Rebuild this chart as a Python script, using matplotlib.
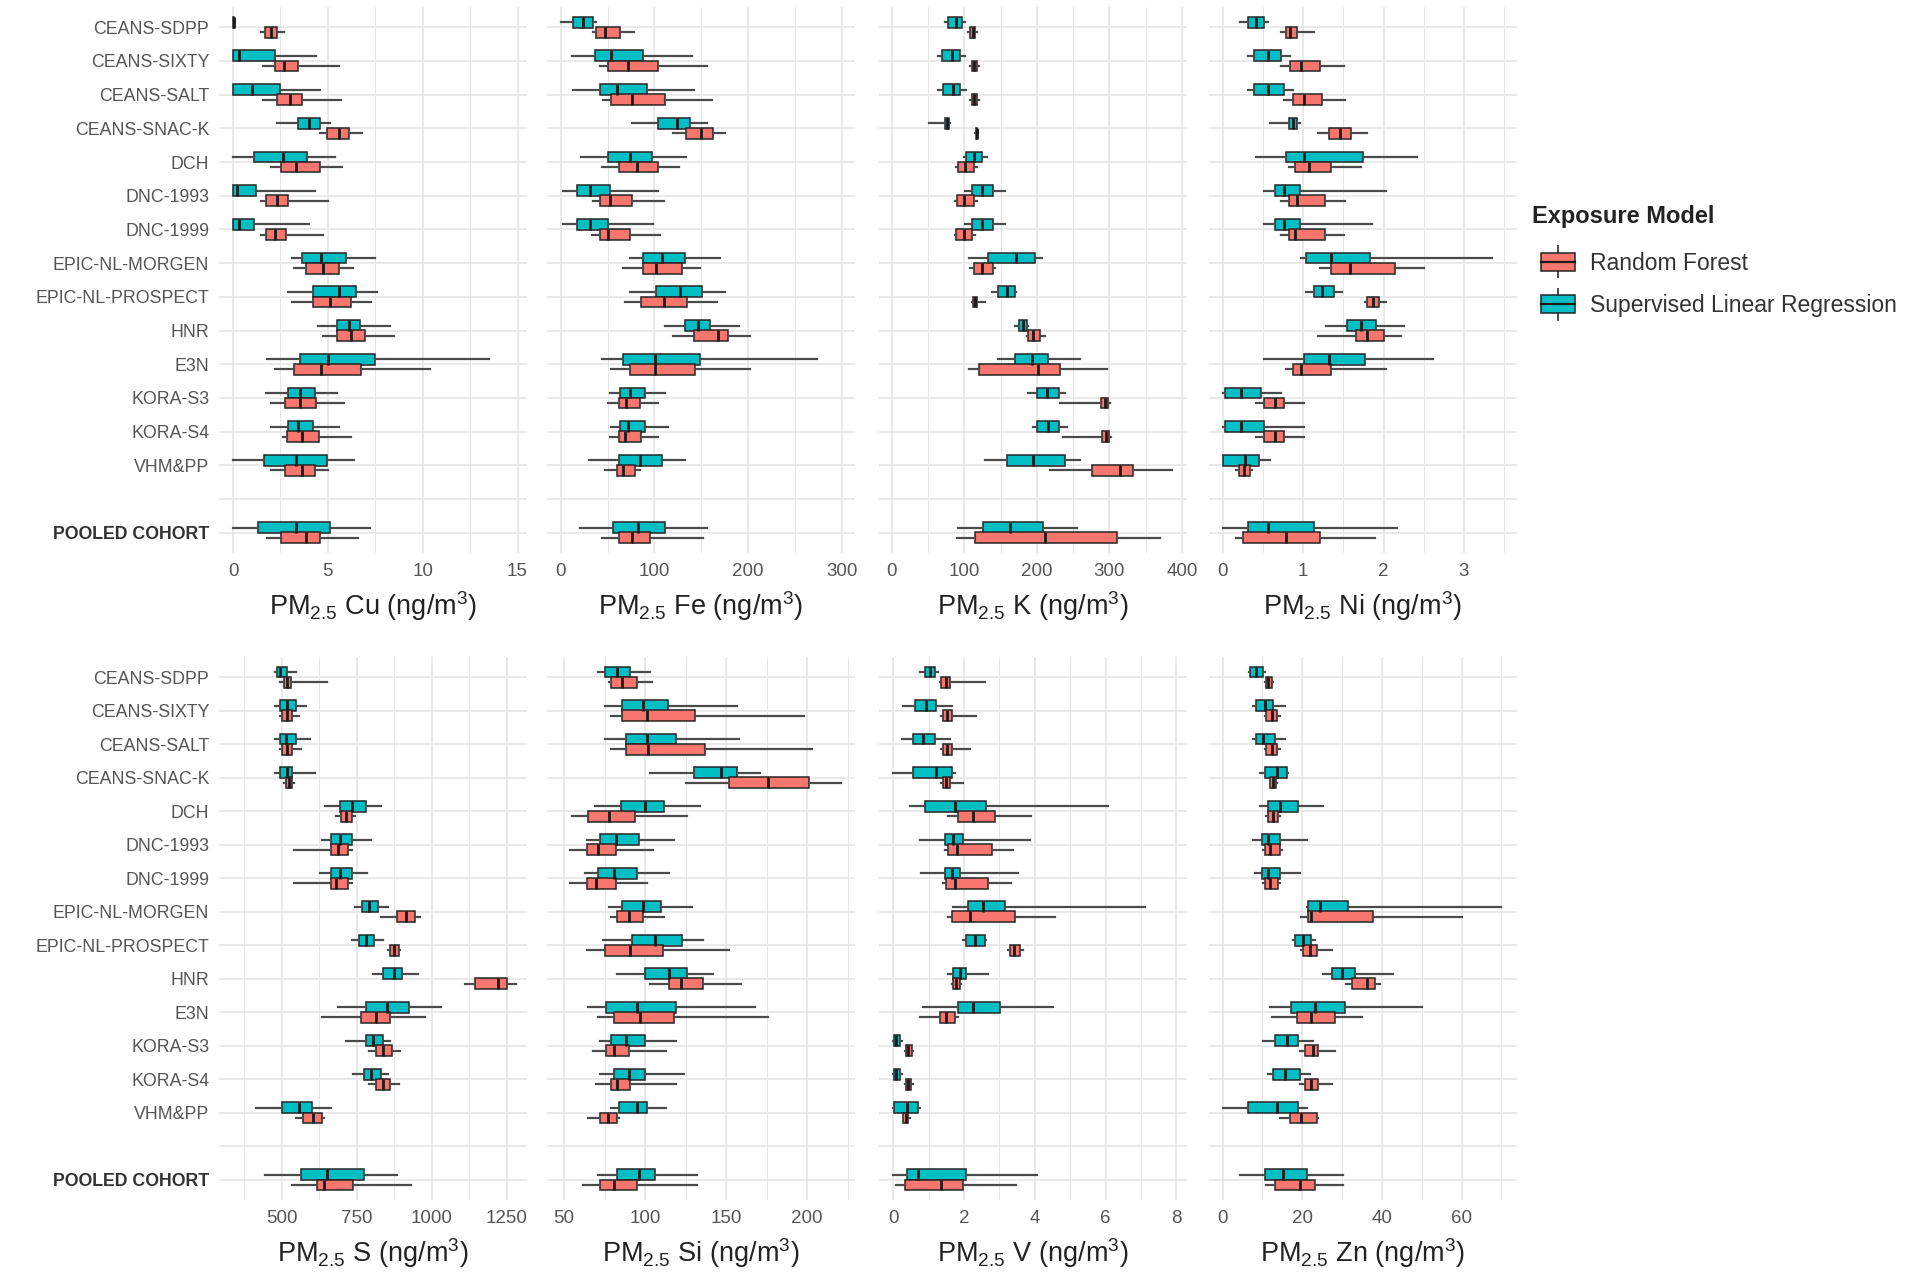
import matplotlib
matplotlib.use("Agg")
import matplotlib.pyplot as plt
from matplotlib.patches import Patch, Rectangle
from matplotlib.lines import Line2D
from matplotlib.legend_handler import HandlerBase

plt.rcParams['font.family'] = ['Liberation Sans', 'DejaVu Sans']
plt.rcParams['mathtext.fontset'] = 'custom'
plt.rcParams['mathtext.rm'] = 'Liberation Sans'
plt.rcParams['mathtext.it'] = 'Liberation Sans:italic'

cohorts = ["CEANS-SDPP", "CEANS-SIXTY", "CEANS-SALT", "CEANS-SNAC-K", "DCH",
           "DNC-1993", "DNC-1999", "EPIC-NL-MORGEN", "EPIC-NL-PROSPECT", "HNR",
           "E3N", "KORA-S3", "KORA-S4", "VHM&PP", "POOLED COHORT"]
models = ["Random Forest", "Supervised Linear Regression"]

# box stats per cohort: [whisker low, Q1, median, Q3, whisker high]
cu_slr = [[0, 0.01, 0.03, 0.06, 0.1], [0, 0, 0.3, 2.2, 4.4], [0, 0, 1.0, 2.5, 4.6],
          [2.3, 3.4, 4.0, 4.6, 5.1], [0, 1.1, 2.65, 3.9, 5.4], [0, 0, 0.2, 1.2, 4.3],
          [0, 0, 0.3, 1.1, 4.0], [3.1, 3.65, 4.65, 5.95, 7.5], [2.9, 4.2, 5.6, 6.5, 7.6],
          [4.5, 5.5, 6.1, 6.7, 8.3], [1.8, 3.55, 5.0, 7.5, 13.5], [1.75, 2.9, 3.55, 4.3, 5.5],
          [2.0, 2.9, 3.45, 4.2, 5.6], [0, 1.65, 3.3, 4.95, 6.4], [0, 1.3, 3.3, 5.1, 7.2]]
cu_rf = [[1.5, 1.7, 2.0, 2.3, 2.7], [1.6, 2.2, 2.7, 3.4, 5.6], [1.6, 2.3, 3.0, 3.65, 5.7],
         [4.6, 4.95, 5.6, 6.1, 6.8], [2.0, 2.55, 3.3, 4.6, 5.75], [1.5, 1.75, 2.3, 2.9, 5.0],
         [1.5, 1.75, 2.2, 2.8, 4.75], [3.2, 3.85, 4.75, 5.6, 6.3], [3.1, 4.2, 5.1, 6.2, 7.3],
         [4.75, 5.5, 6.2, 6.95, 8.5], [2.2, 3.2, 4.65, 6.75, 10.4], [2.0, 2.75, 3.55, 4.4, 5.85],
         [2.65, 2.85, 3.65, 4.55, 6.2], [2.0, 2.75, 3.65, 4.3, 5.0], [1.8, 2.55, 3.85, 4.6, 6.6]]

fe_slr = [[0, 13.5, 24, 35, 38], [12, 37, 54, 88, 140], [13.5, 42, 60, 92, 142],
          [76, 104, 124, 138, 156], [22, 51, 74, 97, 134], [3, 17, 31, 53, 104],
          [3, 17, 31, 51, 99], [74, 88, 108, 133, 170], [74, 102, 127, 151, 175],
          [111, 133, 147, 159, 190], [44, 67, 101, 149, 273], [53, 63, 74, 90, 111],
          [54, 63, 72, 90, 115], [30, 62, 85, 108, 133], [21, 56, 83, 111, 156]]
fe_rf = [[35, 38, 47, 63, 78], [42, 51, 72, 104, 156], [45, 54, 76, 111, 161],
         [120, 134, 150, 163, 175], [44, 62, 81, 104, 126], [35, 42, 53, 76, 110],
         [33, 42, 51, 74, 106], [67, 88, 102, 129, 149], [69, 86, 110, 135, 167],
         [120, 142, 168, 179, 202], [54, 74, 101, 143, 202], [51, 62, 70, 85, 104],
         [53, 62, 69, 86, 104], [47, 60, 67, 79, 85], [44, 62, 76, 95, 152]]

k_slr = [[74, 78, 89, 97, 101], [64, 69, 83, 94, 101], [64, 71, 84, 94, 103],
         [51, 74, 76, 79, 80], [99, 103, 113, 124, 131], [101, 110, 124, 140, 156],
         [101, 110, 124, 140, 156], [106, 133, 172, 198, 207], [138, 147, 159, 170, 172],
         [170, 175, 181, 186, 188], [147, 170, 193, 216, 260], [188, 200, 214, 230, 239],
         [195, 200, 216, 230, 241], [129, 159, 195, 239, 260], [92, 126, 163, 209, 255]]
k_rf = [[105, 108, 112, 115, 118], [108, 110, 114, 117, 120], [108, 110, 114, 117, 120],
        [115, 116, 117, 118, 119], [89, 92, 101, 113, 117], [87, 90, 99, 113, 117],
        [87, 89, 99, 110, 115], [108, 113, 124, 140, 143], [111, 112, 115, 118, 128],
        [186, 188, 195, 205, 211], [106, 120, 202, 232, 297], [232, 289, 294, 298, 301],
        [236, 290, 295, 299, 302], [218, 276, 315, 333, 386], [90, 115, 211, 310, 370]]

ni_slr = [[0.21, 0.31, 0.41, 0.51, 0.56], [0.31, 0.39, 0.56, 0.73, 0.84], [0.31, 0.39, 0.56, 0.76, 0.87],
          [0.59, 0.82, 0.87, 0.93, 0.96], [0.42, 0.79, 1.01, 1.74, 2.42], [0.51, 0.65, 0.76, 0.96, 2.03],
          [0.51, 0.65, 0.76, 0.96, 1.86], [0.98, 1.04, 1.35, 1.83, 3.35], [1.04, 1.13, 1.24, 1.38, 1.49],
          [1.29, 1.55, 1.72, 1.91, 2.25], [0.51, 1.01, 1.32, 1.77, 2.62], [0.0, 0.03, 0.23, 0.48, 0.73],
          [0.0, 0.03, 0.23, 0.51, 1.01], [0.0, 0.0, 0.28, 0.45, 0.59], [0.0, 0.31, 0.56, 1.13, 2.17]]
ni_rf = [[0.73, 0.79, 0.84, 0.93, 1.13], [0.73, 0.84, 0.98, 1.21, 1.51], [0.76, 0.87, 1.01, 1.24, 1.52],
         [1.18, 1.32, 1.46, 1.60, 1.80], [0.82, 0.90, 1.07, 1.35, 1.72], [0.73, 0.82, 0.93, 1.27, 1.52],
         [0.73, 0.82, 0.90, 1.27, 1.51], [1.21, 1.35, 1.58, 2.14, 2.50], [1.77, 1.80, 1.87, 1.94, 2.03],
         [1.18, 1.66, 1.80, 2.00, 2.22], [0.79, 0.87, 0.98, 1.35, 2.03], [0.42, 0.51, 0.65, 0.76, 1.01],
         [0.42, 0.51, 0.65, 0.76, 1.01], [0.17, 0.20, 0.27, 0.34, 0.37], [0.17, 0.25, 0.79, 1.21, 1.89]]

s_slr = [[477, 483, 494, 517, 547], [477, 494, 517, 547, 581], [477, 494, 512, 547, 593],
         [477, 494, 517, 535, 610], [645, 692, 733, 779, 831], [634, 663, 692, 733, 797],
         [628, 663, 692, 733, 785], [744, 767, 791, 820, 855], [733, 756, 779, 808, 837],
         [802, 837, 872, 901, 953], [686, 779, 849, 924, 1029], [715, 779, 802, 837, 860],
         [738, 773, 797, 831, 855], [413, 500, 558, 599, 663], [442, 564, 651, 773, 884]]
s_rf = [[494, 506, 517, 529, 651], [494, 500, 517, 535, 558], [494, 500, 517, 535, 564],
        [506, 512, 523, 535, 541], [680, 698, 715, 733, 744], [541, 663, 686, 721, 733],
        [541, 663, 680, 721, 733], [831, 884, 913, 942, 959], [855, 860, 874, 890, 895],
        [1110, 1145, 1221, 1250, 1279], [634, 762, 814, 860, 977], [791, 814, 837, 866, 895],
        [791, 814, 837, 860, 890], [547, 570, 605, 634, 640], [535, 616, 640, 738, 930]]

si_slr = [[71, 75, 83, 91, 103], [75, 86, 99, 114, 157], [75, 88, 101, 119, 158],
          [103, 130, 147, 157, 171], [69, 85, 100, 112, 134], [64, 72, 82, 96, 118],
          [63, 71, 81, 95, 115], [78, 86, 99, 110, 129], [74, 92, 106, 123, 136],
          [83, 100, 115, 126, 142], [65, 76, 95, 119, 168], [72, 79, 88, 100, 119],
          [72, 81, 90, 100, 124], [79, 84, 95, 101, 113], [71, 83, 96, 106, 132]]
si_rf = [[78, 79, 86, 95, 104], [79, 86, 101, 131, 198], [79, 88, 102, 137, 203],
         [125, 152, 176, 201, 221], [55, 65, 78, 94, 126], [54, 64, 71, 82, 105],
         [54, 64, 70, 82, 101], [79, 83, 90, 99, 112], [64, 75, 91, 111, 152],
         [103, 115, 122, 136, 159], [71, 81, 97, 118, 176], [68, 76, 81, 90, 113],
         [70, 79, 83, 91, 119], [65, 72, 77, 83, 84], [62, 72, 81, 95, 132]]

v_slr = [[0.75, 0.89, 1.03, 1.18, 1.27], [0.28, 0.61, 0.94, 1.22, 1.65], [0.24, 0.56, 0.85, 1.18, 1.60],
         [0.0, 0.56, 1.22, 1.65, 1.74], [0.47, 0.89, 1.74, 2.63, 6.07], [0.75, 1.46, 1.69, 1.98, 3.86],
         [0.80, 1.46, 1.65, 1.88, 3.53], [1.69, 2.12, 2.54, 3.15, 7.10], [1.98, 2.07, 2.30, 2.59, 2.63],
         [1.55, 1.69, 1.88, 2.07, 2.68], [0.85, 1.83, 2.26, 3.01, 4.52], [0.0, 0.02, 0.09, 0.19, 0.24],
         [0.0, 0.02, 0.09, 0.19, 0.24], [0.0, 0.02, 0.38, 0.71, 0.75], [0.0, 0.38, 0.71, 2.07, 4.05]]
v_rf = [[1.32, 1.36, 1.49, 1.60, 2.59], [1.36, 1.41, 1.52, 1.65, 2.35], [1.36, 1.41, 1.52, 1.65, 2.16],
        [1.36, 1.41, 1.49, 1.60, 1.98], [1.55, 1.83, 2.26, 2.87, 3.90], [1.46, 1.55, 1.79, 2.78, 3.39],
        [1.41, 1.50, 1.74, 2.68, 3.34], [1.55, 1.65, 2.16, 3.43, 4.56], [3.25, 3.29, 3.40, 3.57, 3.67],
        [1.65, 1.69, 1.77, 1.88, 1.93], [0.75, 1.32, 1.50, 1.74, 1.83], [0.33, 0.36, 0.42, 0.52, 0.56],
        [0.33, 0.36, 0.42, 0.50, 0.55], [0.28, 0.28, 0.36, 0.42, 0.47], [0.09, 0.33, 1.36, 1.98, 3.48]]

zn_slr = [[6.7, 6.9, 8.5, 10.2, 10.6], [7.7, 8.5, 10.6, 12.7, 15.6], [7.7, 8.5, 10.2, 13.1, 15.6],
          [9.4, 10.6, 13.6, 16.1, 16.5], [9.4, 11.5, 14.4, 19.0, 25.3], [7.7, 9.8, 11.5, 14.4, 21.1],
          [8.1, 9.8, 11.5, 14.4, 19.4], [21.1, 21.5, 24.4, 31.5, 70.0], [17.7, 18.2, 20.3, 22.3, 23.2],
          [25.3, 27.4, 29.9, 33.2, 42.8], [11.9, 17.3, 23.2, 30.7, 50.0], [10.2, 13.1, 16.1, 19.0, 22.8],
          [11.5, 12.7, 15.6, 19.4, 21.9], [0.0, 6.4, 13.6, 19.0, 21.1], [4.4, 10.6, 15.2, 21.1, 30.3]]
zn_rf = [[10.6, 10.9, 11.5, 12.3, 12.6], [10.6, 11.0, 12.3, 13.6, 14.4], [10.6, 11.0, 12.3, 13.6, 14.4],
         [11.9, 12.0, 12.7, 13.4, 13.6], [11.0, 11.5, 12.6, 14.0, 14.4], [10.2, 10.6, 11.9, 14.4, 14.8],
         [10.2, 10.6, 11.9, 14.0, 14.4], [19.8, 21.5, 22.3, 37.8, 60.0], [19.8, 20.3, 21.9, 23.6, 27.4],
         [31.1, 32.4, 36.2, 38.2, 39.5], [12.3, 18.6, 22.3, 28.2, 34.9], [19.4, 20.7, 22.8, 24.0, 28.2],
         [19.4, 20.7, 22.3, 24.0, 27.4], [14.4, 16.9, 19.8, 23.6, 24.0], [11.0, 13.1, 19.4, 23.2, 30.3]]

elements = ["Cu", "Fe", "K", "Ni", "S", "Si", "V", "Zn"]
rf_data = [cu_rf, fe_rf, k_rf, ni_rf, s_rf, si_rf, v_rf, zn_rf]
slr_data = [cu_slr, fe_slr, k_slr, ni_slr, s_slr, si_slr, v_slr, zn_slr]
x_ticks = [[0, 5, 10, 15], [0, 100, 200, 300], [0, 100, 200, 300, 400], [0, 1, 2, 3],
           [500, 750, 1000, 1250], [50, 100, 150, 200], [0, 2, 4, 6, 8], [0, 20, 40, 60]]
x_limits = [(-0.74, 15.5), (-14.6, 314), (-17.5, 407), (-0.17, 3.66),
            (290, 1317), (39.5, 229.6), (-0.4, 8.3), (-3.4, 73.9)]

RED = "#F8766D"
TEAL = "#00BFC4"
GRID = "#E6E6E6"
TXT = "#555555"

ypos = list(range(1, 15)) + [16]

W, H = 1910, 1278
fig = plt.figure(figsize=(W / 100, H / 100), dpi=100)

lefts = [219, 547, 879, 1209]
rows = [(7, 553), (657, 1200)]
pw = 308


def box_stats(rows_):
    return [dict(whislo=r[0], q1=r[1], med=r[2], q3=r[3], whishi=r[4], fliers=[]) for r in rows_]


for i, el in enumerate(elements):
    r, c = divmod(i, 4)
    top, bot = rows[r]
    ax = fig.add_axes([lefts[c] / W, 1 - bot / H, pw / W, (bot - top) / H])
    ax.set_xlim(*x_limits[i])
    ax.set_ylim(16.6, 0.4)
    ax.set_xticks(x_ticks[i])
    t = x_ticks[i]
    step = t[1] - t[0]
    minors = [v + step / 2 for v in [t[0] - step] + t]
    ax.set_xticks([m for m in minors if x_limits[i][0] < m < x_limits[i][1]], minor=True)
    ax.set_yticks(list(range(1, 17)))
    ax.grid(True, which="major", color=GRID, lw=1.2)
    ax.grid(True, which="minor", axis="x", color=GRID, lw=0.7)
    ax.set_axisbelow(True)
    for sp in ax.spines.values():
        sp.set_visible(False)
    ax.tick_params(which="both", length=0)
    ax.tick_params(axis="x", labelsize=13.5, labelcolor=TXT, pad=7)

    if c == 0:
        labels = cohorts[:-1] + ["", cohorts[-1]]
        ax.set_yticklabels(labels, fontsize=12.8, color=TXT)
        ax.tick_params(axis="y", pad=7)
        lab = ax.get_yticklabels()[-1]
        lab.set_fontweight("bold")
        lab.set_color("#333333")
    else:
        ax.tick_params(axis="y", labelleft=False)

    for data, color, off in [(slr_data[i], TEAL, -0.15), (rf_data[i], RED, 0.15)]:
        ax.bxp(box_stats(data), positions=[p + off for p in ypos], widths=0.32,
               orientation="horizontal", patch_artist=True, showcaps=False,
               showfliers=False, manage_ticks=False,
               boxprops=dict(facecolor=color, edgecolor="#262626", lw=1.1),
               whiskerprops=dict(color="#4a4a4a", lw=1.6),
               medianprops=dict(color="#1a1a1a", lw=2.0))

    ax.set_xlabel(r"PM$_{2.5}$ " + el + r" (ng/m$^3$)", fontsize=19.5, labelpad=7,
                  color="#222222")


class BoxKey(HandlerBase):
    def create_artists(self, legend, orig_handle, xdescent, ydescent, width, height, fontsize, trans):
        x0, y0 = -xdescent, -ydescent
        fc = orig_handle.get_facecolor()
        wt = Line2D([x0 + width / 2] * 2, [y0 + height * 0.85, y0 + height * 1.1],
                    color="#4a4a4a", lw=1.4, transform=trans)
        wb = Line2D([x0 + width / 2] * 2, [y0 - height * 0.1, y0 + height * 0.15],
                    color="#4a4a4a", lw=1.4, transform=trans)
        rect = Rectangle((x0, y0 + height * 0.15), width, height * 0.7, facecolor=fc,
                         edgecolor="#262626", lw=1.1, transform=trans)
        med = Line2D([x0, x0 + width], [y0 + height / 2] * 2, color="#1a1a1a", lw=1.6,
                     transform=trans)
        return [wt, wb, rect, med]


fig.text(1532 / W, 1 - 216 / H, "Exposure Model", fontsize=17, fontweight="bold",
         color="#222222", ha="left", va="center")
handles = [Patch(facecolor=RED), Patch(facecolor=TEAL)]
leg = fig.legend(handles, models, loc="upper left",
                 bbox_to_anchor=(1541 / W, 1 - 249 / H), frameon=False,
                 handler_map={Patch: BoxKey()}, fontsize=16.5, borderpad=0,
                 borderaxespad=0, handlelength=1.5, handleheight=1.35,
                 handletextpad=0.65, labelspacing=0.72)
for txt in leg.get_texts():
    txt.set_color("#333333")

fig.savefig("out.png", dpi=100)
